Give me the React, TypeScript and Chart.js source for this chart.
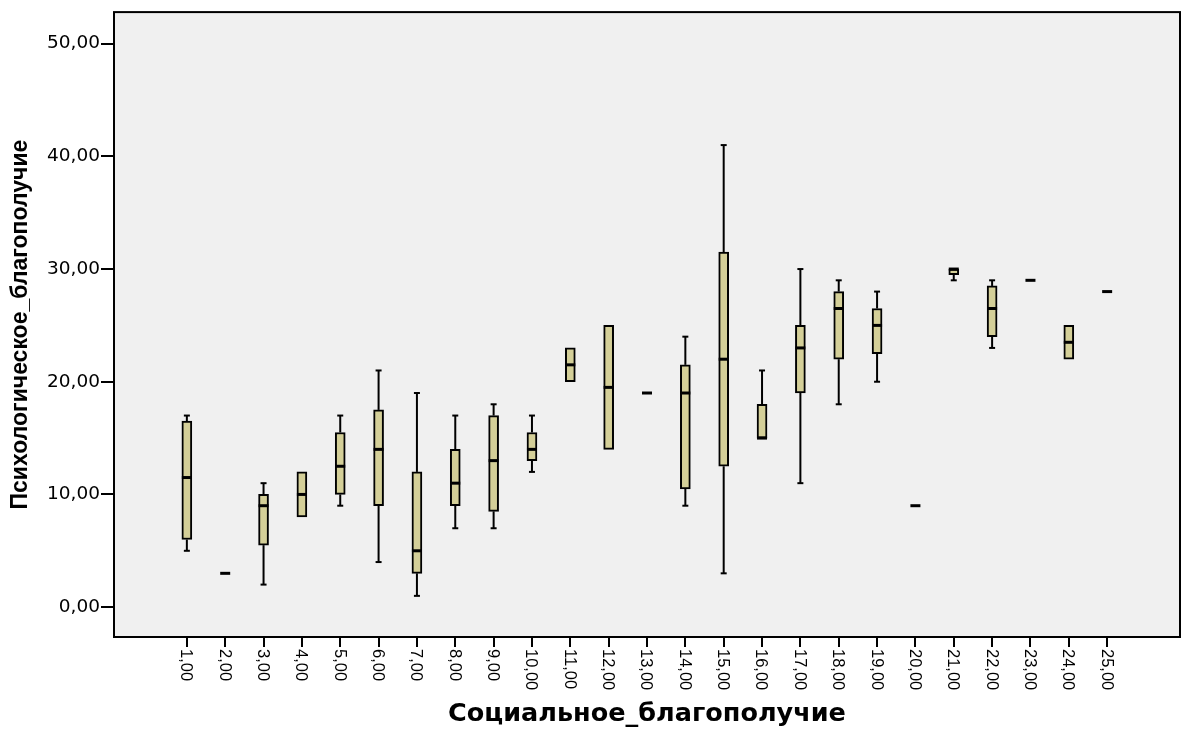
import React, { useEffect, useRef } from 'react';
import { Chart, registerables } from 'chart.js';

Chart.register(...registerables);

// ---- data ----
const CATEGORIES = [1, 2, 3, 4, 5, 6, 7, 8, 9, 10, 11, 12, 13, 14, 15, 16, 17, 18, 19, 20, 21, 22, 23, 24, 25];
const X_LABELS = ['1,00', '2,00', '3,00', '4,00', '5,00', '6,00', '7,00', '8,00', '9,00', '10,00', '11,00', '12,00', '13,00',
  '14,00', '15,00', '16,00', '17,00', '18,00', '19,00', '20,00', '21,00', '22,00', '23,00', '24,00', '25,00'];
const MIN_VALUES = [5, 3, 2, 8, 9, 4, 1, 7, 7, 12, 20, 14, 19, 9, 3, 15, 11, 18, 20, 9, 29, 23, 29, 22, 28];
const Q1_VALUES = [6, 3, 5.5, 8, 10, 9, 3, 9, 8.5, 13, 20, 14, 19, 10.5, 12.5, 15, 19, 22, 22.5, 9, 29.5, 24, 29, 22, 28];
const MEDIAN_VALUES = [11.5, 3, 9, 10, 12.5, 14, 5, 11, 13, 14, 21.5, 19.5, 19, 19, 22, 15, 23, 26.5, 25, 9, 30, 26.5, 29, 23.5, 28];
const Q3_VALUES = [16.5, 3, 10, 12, 15.5, 17.5, 12, 14, 17, 15.5, 23, 25, 19, 21.5, 31.5, 18, 25, 28, 26.5, 9, 30, 28.5, 29, 25, 28];
const MAX_VALUES = [17, 3, 11, 12, 17, 21, 19, 17, 18, 17, 23, 25, 19, 24, 41, 21, 30, 29, 28, 9, 30, 29, 29, 25, 28];
const Y_TICKS = [0, 10, 20, 30, 40, 50];
const Y_TICK_LABELS = ['0,00', '10,00', '20,00', '30,00', '40,00', '50,00'];
const X_TITLE = 'Социальное_благополучие';
const Y_TITLE = 'Психологическое_благополучие';

const BOX_FILL = '#D4CF98';
const PLOT_BG = '#F0F0F0';

export default function App() {
  const ref = useRef<HTMLCanvasElement | null>(null);

  useEffect(() => {
    const canvas = ref.current;
    if (!canvas) return;

    const boxData = CATEGORIES.map((c, i) => (Q3_VALUES[i] > Q1_VALUES[i] ? { x: c, y: [Q1_VALUES[i], Q3_VALUES[i]] } : null))
      .filter((d) => d !== null);

    const boxPlugin = {
      id: 'boxExtras',
      beforeDraw(chart: any) {
        const { ctx, chartArea: a } = chart;
        ctx.save();
        ctx.fillStyle = PLOT_BG;
        ctx.fillRect(a.left, a.top, a.right - a.left, a.bottom - a.top);
        ctx.restore();
      },
      afterDatasetsDraw(chart: any) {
        const { ctx } = chart;
        const xs = chart.scales.x;
        const ys = chart.scales.y;
        ctx.save();
        ctx.strokeStyle = '#000';
        ctx.lineCap = 'butt';
        const line = (x1: number, y1: number, x2: number, y2: number) => {
          ctx.beginPath();
          ctx.moveTo(x1, y1);
          ctx.lineTo(x2, y2);
          ctx.stroke();
        };
        CATEGORIES.forEach((c, i) => {
          const px = xs.getPixelForValue(c);
          const yMax = ys.getPixelForValue(MAX_VALUES[i]);
          const yMin = ys.getPixelForValue(MIN_VALUES[i]);
          const yQ1 = ys.getPixelForValue(Q1_VALUES[i]);
          const yQ3 = ys.getPixelForValue(Q3_VALUES[i]);
          const yMed = ys.getPixelForValue(MEDIAN_VALUES[i]);
          ctx.lineWidth = 2;
          if (MAX_VALUES[i] > Q3_VALUES[i]) {
            line(px, yQ3, px, yMax);
            line(px - 3, yMax, px + 3, yMax);
          }
          if (MIN_VALUES[i] < Q1_VALUES[i]) {
            line(px, yQ1, px, yMin);
            line(px - 3, yMin, px + 3, yMin);
          }
          ctx.lineWidth = 3;
          line(px - 5, yMed, px + 5, yMed);
        });
        ctx.restore();
      },
      afterDraw(chart: any) {
        const { ctx, chartArea: a } = chart;
        const xs = chart.scales.x;
        ctx.save();
        ctx.strokeStyle = '#000';
        ctx.lineWidth = 2;
        ctx.strokeRect(a.left, a.top, a.right - a.left, a.bottom - a.top);
        ctx.fillStyle = '#000';
        ctx.font = '16.5px "Liberation Sans", Arial, sans-serif';
        ctx.textAlign = 'left';
        ctx.textBaseline = 'middle';
        CATEGORIES.forEach((c, i) => {
          const px = xs.getPixelForValue(c);
          ctx.save();
          ctx.translate(px - 1, a.bottom + 12);
          ctx.rotate(Math.PI / 2);
          ctx.fillText(X_LABELS[i], 0, 0);
          ctx.restore();
        });
        ctx.restore();
      },
    };

    const chart = new Chart(canvas, {
      type: 'bar',
      data: {
        datasets: [
          {
            data: boxData as any,
            backgroundColor: BOX_FILL,
            borderColor: '#000',
            borderWidth: 2,
            borderSkipped: false,
            barThickness: 10,
          },
        ],
      },
      options: {
        animation: false,
        responsive: true,
        maintainAspectRatio: false,
        layout: { padding: { top: 8, right: 7, left: 0, bottom: 0 } },
        plugins: { legend: { display: false }, tooltip: { enabled: false } },
        scales: {
          x: {
            type: 'linear',
            min: -0.9,
            max: 26.9,
            offset: false,
            grid: { offset: false, drawOnChartArea: false, drawTicks: true, tickLength: 10, color: '#000', lineWidth: 2 },
            border: { display: false },
            afterBuildTicks: (s: any) => {
              s.ticks = CATEGORIES.map((v) => ({ value: v }));
            },
            afterFit: (s: any) => {
              s.height = 96;
            },
            ticks: { autoSkip: false, maxRotation: 0, minRotation: 0, callback: () => '' },
            title: {
              display: true,
              text: X_TITLE,
              color: '#000',
              font: { family: '"DejaVu Sans", sans-serif', weight: 'bold', size: 25.5 },
              padding: { top: 0, bottom: 3 },
            },
          },
          y: {
            type: 'linear',
            min: -2.65,
            max: 52.8,
            grid: { drawOnChartArea: false, drawTicks: true, tickLength: 13, color: '#000', lineWidth: 2 },
            border: { display: false },
            afterBuildTicks: (s: any) => {
              s.ticks = Y_TICKS.map((v) => ({ value: v }));
            },
            afterFit: (s: any) => {
              s.width = 114;
            },
            ticks: {
              padding: 1,
              color: '#000',
              font: { family: '"DejaVu Sans", sans-serif', size: 18.5 },
              callback: (v: any) => {
                const idx = Y_TICKS.indexOf(Number(v));
                return idx >= 0 ? Y_TICK_LABELS[idx] : '';
              },
            },
            title: {
              display: true,
              text: Y_TITLE,
              color: '#000',
              font: { family: '"Liberation Sans", Arial, sans-serif', weight: 'bold', size: 23 },
              padding: { top: 7, bottom: 0 },
            },
          },
        },
      },
      plugins: [boxPlugin],
    });

    return () => chart.destroy();
  }, []);

  return (
    <div style={{ position: 'fixed', left: 0, top: 0, width: 1187, height: 733, background: '#fff' }}>
      <canvas ref={ref} />
    </div>
  );
}
